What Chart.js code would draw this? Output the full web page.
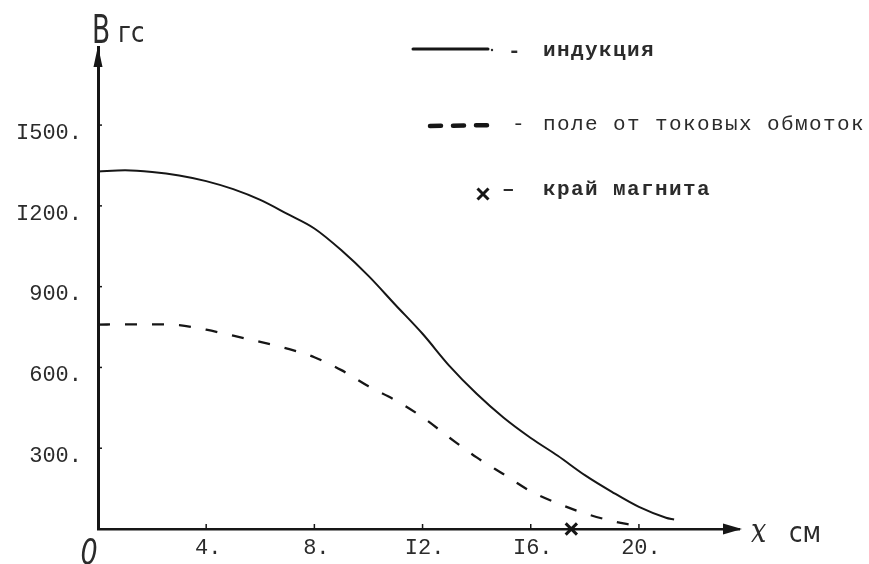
<!DOCTYPE html>
<html><head><meta charset="utf-8">
<script src="https://cdn.jsdelivr.net/npm/chart.js@4.4.1/dist/chart.umd.min.js"></script>
<style>html,body{margin:0;padding:0;background:#fff}#wrap{width:869px;height:564px;position:relative}</style>
</head><body><div id="wrap"><canvas id="c"></canvas></div>
<script>
// ---- data ----
const xInduction = [0,1,2,3,4,5,6,7,8,9,10,11,12,13,14,15,16,17,18,19,20,21,21.3];
const yInduction = [1328,1332,1326,1313,1292,1262,1222,1170,1116,1035,940,832,725,605,502,413,338,272,200,138,82,42,35];
const xCoilField = [0,1,2,3,4,5,6,7,8,9,10,11,12,13,14,15,16,17,18,19,19.8];
const yCoilField = [759,760,760,757,740,718,695,670,638,590,530,478,415,339,266,203,140,95,58,30,14];
const xMagnetEdge = [17.5];
const yMagnetEdge = [0];
const xTickValues = [0,4,8,12,16,20];
const xTickLabels = ['0','4.','8.','I2.','I6.','20.'];
const yTickValues = [300,600,900,1200,1500];
const yTickLabels = ['300.','600.','900.','I200.','I500.'];
const legendLabels = ['индукция','поле от токовых обмоток','край магнита'];
const yAxisTitle = ['B','гс'];
const xAxisTitle = ['x','см'];

const INK = '#161616';
const TXT = '#2b2b2b';

function pts(xs, ys){ return xs.map((v,i)=>({x:v, y:ys[i]})); }

const overlay = {
  id:'overlay',
  afterDraw(chart){
    const {ctx, scales:{x, y}, chartArea} = chart;
    const x0 = x.getPixelForValue(0), y0 = y.getPixelForValue(0);
    const top = chartArea.top, right = chartArea.right;
    ctx.save();
    ctx.fillStyle = INK; ctx.strokeStyle = INK;
    // arrowheads
    ctx.beginPath(); ctx.moveTo(x0, top-1); ctx.lineTo(x0-4.5, top+20); ctx.lineTo(x0+4.5, top+20); ctx.closePath(); ctx.fill();
    ctx.beginPath(); ctx.moveTo(right+3, y0); ctx.lineTo(right-16, y0-5.5); ctx.lineTo(right-16, y0+5.5); ctx.closePath(); ctx.fill();
    // small tick marks
    ctx.lineWidth = 1.5;
    xTickValues.forEach(v=>{ if(!v) return; const px=x.getPixelForValue(v); ctx.beginPath(); ctx.moveTo(px,y0); ctx.lineTo(px,y0-5); ctx.stroke(); });
    yTickValues.forEach(v=>{ const py=y.getPixelForValue(v); ctx.beginPath(); ctx.moveTo(x0,py); ctx.lineTo(x0+4,py); ctx.stroke(); });

    // origin "0"
    ctx.fillStyle = TXT;
    ctx.textBaseline = 'alphabetic';
    ctx.save(); ctx.translate(x0-9, 564); ctx.scale(0.75,1);
    ctx.font = 'italic 36px "DejaVu Sans"'; ctx.textAlign='center'; ctx.fillText(xTickLabels[0], 0, 0); ctx.restore();

    // y axis title
    ctx.save(); ctx.translate(x0+3, 43); ctx.scale(0.68,1);
    ctx.font = '39px "DejaVu Sans"'; ctx.textAlign='center'; ctx.fillText(yAxisTitle[0], 0, 0); ctx.restore();
    ctx.save(); ctx.translate(118, 42); ctx.scale(0.85,1);
    ctx.font = '29px "DejaVu Sans"'; ctx.textAlign='left'; ctx.fillText(yAxisTitle[1], 0, 0); ctx.restore();

    // x axis title
    ctx.save(); ctx.translate(751, 542); ctx.scale(0.85,1.1);
    ctx.font = 'italic 32px "DejaVu Serif"'; ctx.textAlign='left'; ctx.fillText(xAxisTitle[0], 0, 0); ctx.restore();
    ctx.save(); ctx.translate(789, 542); ctx.scale(0.95,1.1);
    ctx.font = '26px "DejaVu Sans"'; ctx.textAlign='left'; ctx.fillText(xAxisTitle[1], 0, 0); ctx.restore();

    // legend
    const tx = 543;
    const rows = [51, 124, 190];
    ctx.lineCap = 'round';
    ctx.lineWidth = 3; ctx.setLineDash([]);
    ctx.beginPath(); ctx.moveTo(413, rows[0]-2); ctx.lineTo(488, rows[0]-2); ctx.stroke();
    ctx.beginPath(); ctx.arc(492, rows[0]-1, 1.2, 0, Math.PI*2); ctx.fill();
    ctx.lineWidth = 4.5; ctx.setLineDash([11, 12]);
    ctx.beginPath(); ctx.moveTo(430, rows[1]+2); ctx.lineTo(498, rows[1]+1); ctx.stroke();
    ctx.setLineDash([]);
    ctx.lineWidth = 3; ctx.lineCap='butt';
    const cx=483, cy=rows[2]+4, r=5.5;
    ctx.beginPath(); ctx.moveTo(cx-r,cy-r); ctx.lineTo(cx+r,cy+r); ctx.moveTo(cx+r,cy-r); ctx.lineTo(cx-r,cy+r); ctx.stroke();

    ctx.fillStyle = TXT; ctx.textAlign='left'; ctx.textBaseline='middle';
    if ('letterSpacing' in ctx) ctx.letterSpacing = '1.4px';
    ctx.font = 'bold 21px "Liberation Mono"';
    ctx.fillText('-', 508, rows[0]+1);
    ctx.fillText(legendLabels[0], tx, rows[0]);
    ctx.font = '21px "Liberation Mono"';
    ctx.fillText('-', 512, rows[1]);
    ctx.fillText(legendLabels[1], tx, rows[1]);
    ctx.font = 'bold 21px "Liberation Mono"';
    ctx.fillText('–', 502, rows[2]);
    ctx.fillText(legendLabels[2], tx, rows[2]);
    ctx.restore();
  }
};

Chart.defaults.font.family = '"Liberation Mono", monospace';
Chart.defaults.color = TXT;

new Chart(document.getElementById('c'), {
  type: 'line',
  data: {
    datasets: [
      { label: legendLabels[0], data: pts(xInduction, yInduction), borderColor: INK, borderWidth: 2,
        pointRadius: 0, cubicInterpolationMode: 'monotone', fill: false, clip: false },
      { label: legendLabels[1], data: pts(xCoilField, yCoilField), borderColor: INK, borderWidth: 2.3,
        borderDash: [12, 15], pointRadius: 0, cubicInterpolationMode: 'monotone', fill: false, clip: false },
      { label: legendLabels[2], data: pts(xMagnetEdge, yMagnetEdge), showLine: false, pointStyle: 'crossRot',
        pointRadius: 8, borderColor: INK, borderWidth: 3, clip: false }
    ]
  },
  options: {
    responsive: true, maintainAspectRatio: false, animation: false,
    layout: { padding: { left: 0, top: 47, right: 130, bottom: 0 } },
    plugins: { legend: { display: false }, tooltip: { enabled: false } },
    scales: {
      x: {
        type: 'linear', min: 0, max: 23.7,
        grid: { display: false, drawTicks: false },
        border: { display: true, color: INK, width: 2.5 },
        afterBuildTicks(s){ s.ticks = xTickValues.map(v=>({value:v})); },
        afterFit(s){ s.height = 35; },
        ticks: {
          padding: 6, maxRotation: 0, autoSkip: false, labelOffset: 2,
          font: { size: 22 }, color: TXT,
          callback(v){ const i = xTickValues.indexOf(v); return (i > 0) ? xTickLabels[i] : ''; }
        }
      },
      y: {
        type: 'linear', min: 0, max: 1790,
        grid: { display: false, drawTicks: false },
        border: { display: true, color: INK, width: 3 },
        afterBuildTicks(s){ s.ticks = yTickValues.map(v=>({value:v})); },
        afterFit(s){ s.width = 98; },
        ticks: {
          padding: 16, autoSkip: false, labelOffset: 8,
          font: { size: 22 }, color: TXT,
          callback(v){ const i = yTickValues.indexOf(v); return i >= 0 ? yTickLabels[i] : ''; }
        }
      }
    }
  },
  plugins: [overlay]
});
</script>
</body></html>
